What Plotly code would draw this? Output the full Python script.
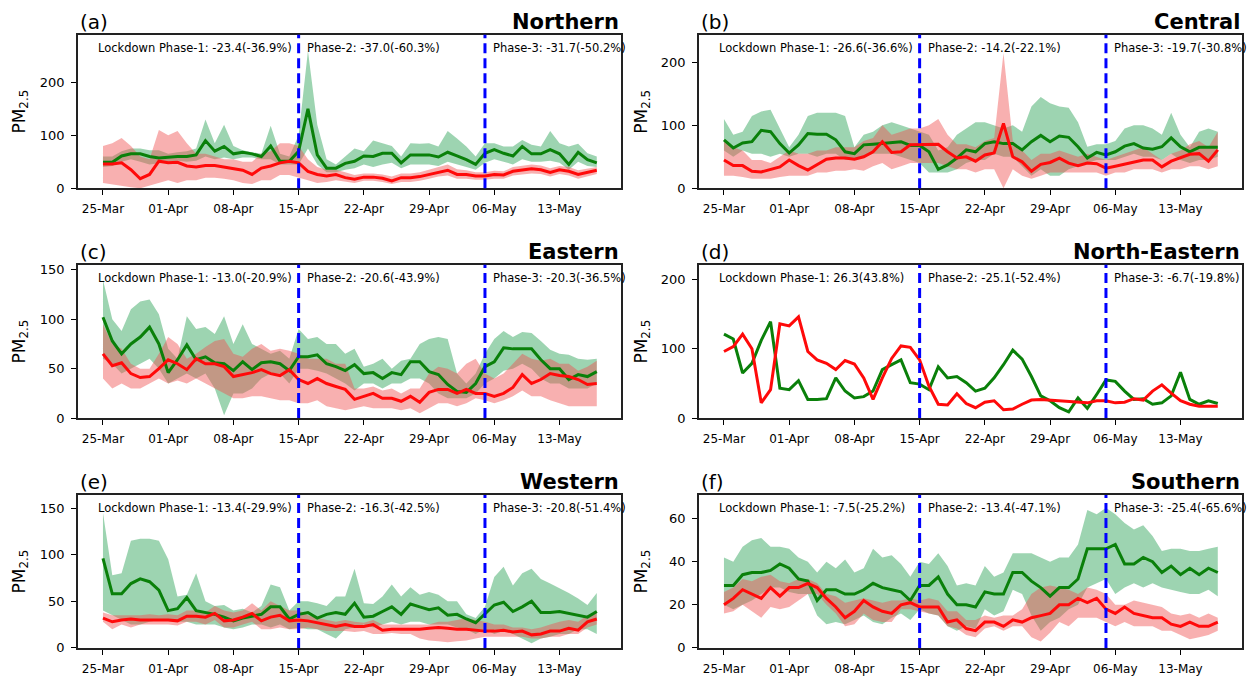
import plotly.graph_objects as go
import pandas as pd

# ---------------- data ----------------
dates = pd.date_range("2020-03-25", periods=54, freq="D")
tick_dates = ["2020-03-25", "2020-04-01", "2020-04-08", "2020-04-15",
              "2020-04-22", "2020-04-29", "2020-05-06", "2020-05-13"]
tick_labels = ["25-Mar", "01-Apr", "08-Apr", "15-Apr", "22-Apr", "29-Apr", "06-May", "13-May"]
phase_starts = ["2020-04-15", "2020-05-05"]

regions = ["Northern", "Central", "Eastern", "North-Eastern", "Western", "Southern"]
letters = ["(a)", "(b)", "(c)", "(d)", "(e)", "(f)"]
phase1_change = ["-23.4(-36.9%)", "-26.6(-36.6%)", "-13.0(-20.9%)", "26.3(43.8%)", "-13.4(-29.9%)", "-7.5(-25.2%)"]
phase2_change = ["-37.0(-60.3%)", "-14.2(-22.1%)", "-20.6(-43.9%)", "-25.1(-52.4%)", "-16.3(-42.5%)", "-13.4(-47.1%)"]
phase3_change = ["-31.7(-50.2%)", "-19.7(-30.8%)", "-20.3(-36.5%)", "-6.7(-19.8%)", "-20.8(-51.4%)", "-25.4(-65.6%)"]
y_max = [290, 244, 155, 221, 164, 71]
y_dtick = [100, 100, 50, 100, 50, 20]

# Northern
north_g = [49,49,61,65,65,60,57,59,60,60,63,90,70,79,65,68,65,60,80,51,51,70,150,63,38,38,47,51,61,60,66,66,48,63,
           63,63,59,68,61,54,45,66,73,66,61,79,65,65,73,65,45,68,54,48]
north_g_hi = [60,60,70,75,75,72,72,65,68,70,75,130,85,120,80,72,68,65,118,65,60,100,260,120,55,45,60,75,70,90,85,80,60,85,
              84,85,79,108,94,79,60,85,85,79,79,91,82,79,108,85,79,84,66,60]
north_g_lo = [40,42,50,55,50,45,48,50,52,50,52,60,55,58,55,58,58,55,55,45,45,45,75,45,30,30,35,38,45,40,45,48,38,45,
              45,45,42,50,45,40,35,48,55,50,45,55,50,50,52,48,35,50,42,40]
north_r = [46,46,48,35,18,26,51,48,49,42,40,43,43,40,38,34,26,38,42,48,51,48,32,26,23,26,20,17,21,21,19,14,20,20,
           22,26,31,34,26,26,23,23,26,25,32,34,37,35,30,35,32,26,30,34]
north_r_hi = [80,85,95,80,60,55,110,100,108,85,65,65,60,55,55,50,50,65,70,85,85,80,55,40,35,35,30,25,28,28,26,22,28,28,
              30,35,40,45,36,34,30,30,33,32,40,42,45,43,38,42,40,34,37,40]
north_r_lo = [10,8,5,2,0,5,10,15,10,15,15,20,20,18,15,10,8,15,15,25,25,20,15,10,12,15,12,10,14,14,12,8,12,12,
              14,18,22,24,18,18,16,16,18,18,24,26,28,27,22,27,24,18,22,27]

# Central
central_g = [77,64,72,74,92,90,71,56,69,87,86,86,77,58,55,69,70,71,72,74,68,68,58,30,37,48,61,58,71,74,71,71,61,74,
             84,74,83,81,66,48,57,53,58,67,71,64,62,66,80,66,58,65,65,65]
central_g_hi = [110,85,90,115,122,125,95,65,85,115,120,120,120,115,65,85,90,100,105,100,95,90,85,60,65,85,95,105,105,100,95,100,90,130,
                145,135,130,128,105,66,70,70,75,95,100,100,95,85,120,85,65,90,95,90]
central_g_lo = [60,50,60,55,55,50,55,50,55,55,50,55,55,45,45,50,55,55,55,50,45,40,25,25,25,30,40,45,45,55,50,50,35,20,
                30,20,20,30,35,40,45,45,45,50,55,50,50,45,55,45,40,45,45,50]
central_r = [45,36,36,27,26,30,34,45,36,29,38,46,48,48,46,50,58,74,57,58,69,69,69,70,58,48,50,43,53,56,103,50,42,27,
             38,41,48,40,36,40,39,32,35,38,42,45,45,34,43,48,54,55,43,61]
central_r_hi = [75,65,60,45,45,40,50,60,55,55,60,60,65,65,65,75,80,100,85,90,95,95,100,110,85,70,70,65,75,80,215,75,60,45,
                55,55,60,55,50,55,50,45,50,55,60,65,55,45,55,60,70,75,65,90]
central_r_lo = [20,20,18,15,15,15,18,20,20,20,25,25,28,28,30,28,35,40,30,35,40,40,40,40,35,30,30,25,30,30,0,30,20,15,
                20,25,25,25,25,25,25,20,25,25,30,30,30,25,30,30,35,35,30,35]

# Eastern
east_g = [102,78,65,75,82,92,75,46,59,74,59,62,56,55,48,57,49,56,57,55,48,62,62,64,55,52,48,54,45,46,40,46,44,57,
          57,47,44,34,27,26,35,52,57,71,70,70,70,59,50,50,39,44,42,47]
east_g_hi = [140,100,88,110,118,120,105,70,60,103,90,92,85,103,75,95,75,70,65,68,60,90,80,82,75,75,65,70,52,55,60,50,58,60,
             75,80,82,80,45,35,45,65,80,88,82,87,86,78,69,65,64,60,59,60]
east_g_lo = [60,55,45,50,55,60,50,35,40,45,40,45,30,3,25,25,30,40,45,45,35,50,50,48,45,40,35,28,35,35,30,35,35,40,
             40,35,25,20,20,20,25,35,40,48,50,55,50,40,35,35,30,30,30,35]
east_r = [65,53,56,45,41,42,50,59,55,49,60,55,55,52,42,44,46,49,45,43,49,39,35,40,35,32,29,19,22,25,20,20,17,22,
          16,26,29,29,25,29,25,25,22,25,31,44,35,39,45,43,42,39,34,35]
east_r_hi = [95,75,70,55,50,50,65,82,75,60,65,72,78,80,65,62,70,75,68,70,68,65,60,60,60,55,55,30,30,32,28,30,25,30,
             30,45,52,50,45,55,60,45,40,45,55,65,60,58,60,55,55,48,52,58]
east_r_lo = [40,30,35,30,30,35,40,35,38,35,40,35,30,25,20,20,22,22,20,18,18,15,15,18,12,10,8,10,12,10,10,10,8,10,
             5,10,15,15,12,15,20,18,15,18,22,28,22,22,18,15,12,12,12,12]

# North-Eastern (no spread bands)
ne_g = [121,114,65,79,112,139,43,41,54,27,27,28,58,39,29,31,39,70,77,84,51,49,41,74,58,60,51,39,43,58,77,98,85,60,
        32,25,15,9,29,14,34,55,53,39,27,28,20,22,32,66,27,20,25,21]
ne_r = [96,103,121,100,22,41,136,133,146,96,84,79,70,83,78,58,27,58,86,104,102,84,46,20,19,35,21,15,23,25,12,13,20,26,
        27,26,26,24,23,22,25,25,22,23,28,26,39,48,36,25,20,17,17,17]

# Western
west_g = [96,58,58,69,74,71,62,40,42,54,40,38,36,33,29,32,34,36,44,44,31,36,38,32,36,38,36,48,33,34,39,44,36,47,
          44,41,43,35,36,31,27,36,46,49,39,44,50,38,38,39,37,35,33,39]
west_g_hi = [145,78,80,115,117,117,115,95,55,57,80,50,45,46,40,42,38,45,68,65,40,50,50,48,45,55,55,85,48,47,55,68,55,65,
             57,60,57,50,50,36,32,44,76,87,67,80,85,74,69,64,59,53,46,59]
west_g_lo = [40,35,30,25,25,28,30,30,28,28,25,25,25,22,20,22,25,25,22,25,20,22,20,20,15,10,20,22,25,22,25,28,25,28,
             28,25,25,25,22,20,15,20,15,18,15,10,5,10,12,15,15,20,20,15]
west_r = [32,28,30,31,30,30,30,30,29,34,34,33,37,29,30,33,37,29,33,35,29,30,29,27,25,23,25,23,23,25,19,20,20,20,
          20,21,22,21,20,20,19,18,18,19,17,18,14,15,18,18,21,19,28,31]
west_r_hi = [38,35,35,35,35,36,35,36,35,40,40,38,45,40,38,40,48,40,50,45,40,40,35,32,30,28,30,28,27,30,25,25,25,25,
             25,25,28,28,30,32,30,28,25,25,22,22,20,22,25,28,30,28,35,38]
west_r_lo = [28,20,25,22,25,25,25,25,24,28,28,25,30,22,22,25,28,20,20,22,20,20,22,20,18,18,18,17,18,15,15,16,15,15,
             10,8,7,6,7,8,10,12,12,12,12,12,10,10,12,12,15,15,22,25]

# Southern
south_g = [29,29,34,35,35,36,39,37,32,31,22,27,27,25,25,27,30,28,27,26,22,29,29,33,25,20,20,19,26,25,25,35,35,31,
           28,24,28,28,32,46,46,46,48,39,39,42,40,35,38,34,37,34,37,35]
south_g_hi = [42,40,47,50,51,47,47,46,42,40,35,40,37,41,35,37,46,42,43,39,33,40,39,44,38,29,30,29,38,33,35,44,44,44,
              42,40,42,42,48,64,62,65,62,58,55,57,52,45,46,46,45,45,46,47]
south_g_lo = [20,18,20,22,25,28,28,26,25,25,15,11,12,11,13,15,12,11,14,16,13,18,16,15,10,8,10,9,18,15,17,27,25,15,
              8,12,14,18,20,28,30,32,25,28,30,28,30,28,27,26,25,25,27,24]
south_r = [20,23,27,25,23,28,24,28,28,30,28,23,19,14,17,22,19,17,16,20,21,19,19,19,12,13,9,8,12,12,10,13,12,14,
           15,16,20,20,23,21,23,18,16,19,16,15,14,14,11,10,12,10,10,12]
south_r_hi = [26,28,32,31,33,34,31,30,32,32,30,25,24,21,22,23,22,21,22,22,23,22,23,22,17,17,13,13,15,14,15,15,18,25,
              28,29,28,27,25,28,27,25,20,20,22,21,20,19,16,15,16,14,16,14]
south_r_lo = [16,17,20,17,14,19,18,19,22,25,25,20,16,10,11,16,13,12,12,18,18,17,16,15,10,9,6,5,9,10,8,10,10,5,
              3,7,12,10,14,14,14,12,10,12,10,10,10,8,8,6,4,5,6,8]

panels = [
    (north_g, north_g_lo, north_g_hi, north_r, north_r_lo, north_r_hi),
    (central_g, central_g_lo, central_g_hi, central_r, central_r_lo, central_r_hi),
    (east_g, east_g_lo, east_g_hi, east_r, east_r_lo, east_r_hi),
    (ne_g, None, None, ne_r, None, None),
    (west_g, west_g_lo, west_g_hi, west_r, west_r_lo, west_r_hi),
    (south_g, south_g_lo, south_g_hi, south_r, south_r_lo, south_r_hi),
]

# ---------------- styling / layout ----------------
FONT = "DejaVu Sans"
col_dom = [[0.06225, 0.49561], [0.55786, 0.99122]]
row_dom = [[0.72328, 0.95124], [0.38170, 0.60952], [0.04026, 0.26750]]
ylabel_x = [0.016, 0.5125]
x_range = ["2020-03-22 07:40", "2020-05-19 14:24"]

GREEN = "#0a800a"
RED = "#ff0a0a"
GREEN_FILL = "rgba(60,170,100,0.50)"
RED_FILL = "rgba(240,80,80,0.45)"

fig = go.Figure()
layout = dict(width=1253, height=683, margin=dict(l=0, r=0, t=0, b=0),
              plot_bgcolor="white", paper_bgcolor="white",
              showlegend=False, font=dict(family=FONT, color="black"))
annotations = []
shapes = []

xs = list(dates)
xs_poly = xs + xs[::-1]

for k in range(6):
    r, c = divmod(k, 2)
    sfx = "" if k == 0 else str(k + 1)
    xa, ya = "x" + sfx, "y" + sfx
    g, g_lo, g_hi, rd, r_lo, r_hi = panels[k]

    if g_lo is not None:
        fig.add_trace(go.Scatter(x=xs_poly, y=list(g_hi) + list(g_lo)[::-1], fill="toself",
                                 fillcolor=GREEN_FILL, line=dict(width=0), mode="lines",
                                 hoverinfo="skip", xaxis=xa, yaxis=ya))
        fig.add_trace(go.Scatter(x=xs_poly, y=list(r_hi) + list(r_lo)[::-1], fill="toself",
                                 fillcolor=RED_FILL, line=dict(width=0), mode="lines",
                                 hoverinfo="skip", xaxis=xa, yaxis=ya))
    fig.add_trace(go.Scatter(x=xs, y=g, mode="lines", line=dict(color=GREEN, width=3),
                             xaxis=xa, yaxis=ya))
    fig.add_trace(go.Scatter(x=xs, y=rd, mode="lines", line=dict(color=RED, width=3),
                             xaxis=xa, yaxis=ya))

    layout["xaxis" + sfx] = dict(
        domain=col_dom[c], anchor=ya, type="date", range=x_range,
        tickvals=tick_dates, ticktext=tick_labels, ticks="outside", ticklen=5,
        tickwidth=1, tickcolor="black", tickfont=dict(family=FONT, size=12),
        ticklabelstandoff=4,
        showgrid=False, zeroline=False, showline=True, mirror=True,
        linecolor="#222", linewidth=1.5)
    layout["yaxis" + sfx] = dict(
        domain=row_dom[r], anchor=xa, range=[0, y_max[k]], dtick=y_dtick[k], tick0=0,
        ticks="outside", ticklen=5, tickwidth=1, tickcolor="black",
        tickfont=dict(family=FONT, size=13), ticklabelstandoff=4,
        showgrid=False, zeroline=False, showline=True, mirror=True,
        linecolor="#222", linewidth=1.5)

    for d in phase_starts:
        shapes.append(dict(type="line", xref=xa, yref=ya + " domain", x0=d, x1=d, y0=0, y1=1,
                           line=dict(color="#0000ff", width=3, dash="10px,5px")))

    annotations.append(dict(xref=xa + " domain", yref=ya + " domain", x=0, y=1,
                            xanchor="left", yanchor="middle", yshift=13, showarrow=False,
                            text=letters[k], font=dict(family=FONT, size=20)))
    annotations.append(dict(xref=xa + " domain", yref=ya + " domain", x=1, y=1,
                            xanchor="right", yanchor="middle", yshift=13, showarrow=False,
                            text="<b>" + regions[k] + "</b>", font=dict(family=FONT, size=21)))
    annotations.append(dict(xref=xa + " domain", yref=ya + " domain", x=0.033, y=1,
                            xanchor="left", yanchor="middle", yshift=-13, showarrow=False,
                            text="Lockdown Phase-1: " + phase1_change[k],
                            font=dict(family=FONT, size=11.5)))
    annotations.append(dict(xref=xa, yref=ya + " domain", x=phase_starts[0], y=1,
                            xanchor="left", yanchor="middle", xshift=6, yshift=-13, showarrow=False,
                            text="Phase-2: " + phase2_change[k],
                            font=dict(family=FONT, size=11.5)))
    annotations.append(dict(xref=xa, yref=ya + " domain", x=phase_starts[1], y=1,
                            xanchor="left", yanchor="middle", xshift=6, yshift=-13, showarrow=False,
                            text="Phase-3: " + phase3_change[k],
                            font=dict(family=FONT, size=11.5)))
    annotations.append(dict(xref="paper", yref="paper", x=ylabel_x[c],
                            y=(row_dom[r][0] + row_dom[r][1]) / 2,
                            xanchor="center", yanchor="middle", textangle=-90, showarrow=False,
                            text="PM<sub>2.5</sub>", font=dict(family=FONT, size=17)))

layout["annotations"] = annotations
layout["shapes"] = shapes
fig.update_layout(**layout)
fig.write_html("out.html", config={"displayModeBar": False},
               post_script="document.body.style.margin='0';document.body.style.overflow='hidden';")
